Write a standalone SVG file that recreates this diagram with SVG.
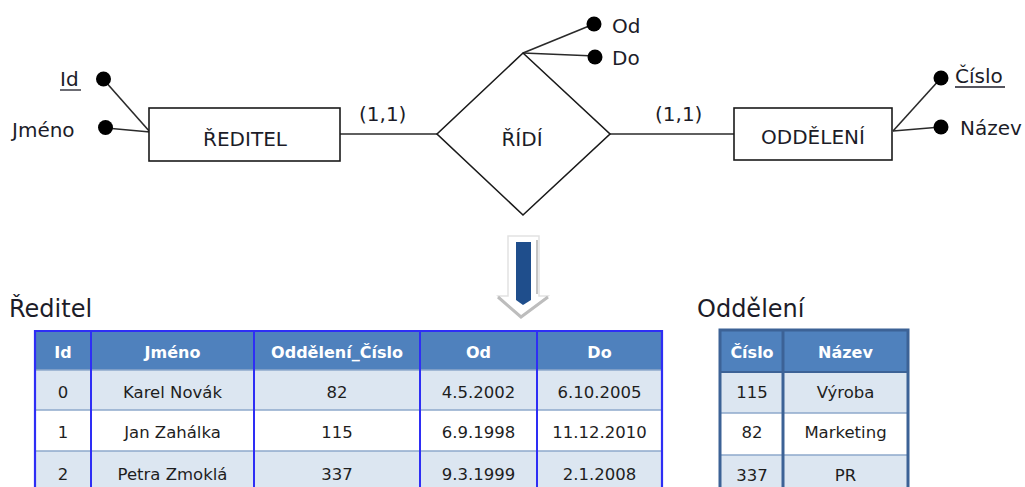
<svg xmlns="http://www.w3.org/2000/svg" width="1025" height="487" viewBox="0 0 1025 487">
<style>
.lbl{font-family:"DejaVu Sans","Liberation Sans",sans-serif;font-size:20px;fill:#1c1c28}
.ttl{font-family:"DejaVu Sans","Liberation Sans",sans-serif;font-size:24px;fill:#1c1c28}
.ent{fill:#fff;stroke:#1a1a1a;stroke-width:1.6}
.ln{stroke:#2a2a2a;stroke-width:1.6;fill:none}
.dot{fill:#000}
.hd{font-family:"DejaVu Sans","Liberation Sans",sans-serif;font-size:16px;font-weight:bold;fill:#fff;text-anchor:middle}
.cl{font-family:"DejaVu Sans","Liberation Sans",sans-serif;font-size:16.5px;fill:#1e1e1e;text-anchor:middle}
.hfill{fill:#4F81BD}
.alt{fill:#DCE6F1}
.wht{fill:#fff}
.hsep{stroke:#8EA9CB;stroke-width:1.6}
.vsep1{stroke:#2E2EF5;stroke-width:2}
.vsep2{stroke:#3C6296;stroke-width:3}
</style>

<g id="connectors">
  <line class="ln" x1="340" y1="134" x2="437" y2="134"/>
  <line class="ln" x1="610" y1="134" x2="734" y2="134"/>
  <line class="ln" x1="104" y1="80" x2="150" y2="132"/>
  <line class="ln" x1="106" y1="128" x2="150" y2="132"/>
  <line class="ln" x1="523" y1="53" x2="594" y2="24"/>
  <line class="ln" x1="523" y1="53" x2="595" y2="56"/>
  <line class="ln" x1="893" y1="131" x2="941" y2="78"/>
  <line class="ln" x1="893" y1="131" x2="941" y2="127"/>
  <text class="lbl" x="359" y="121">(1,1)</text>
  <text class="lbl" x="655" y="121">(1,1)</text>
</g>

<g id="node-reditel">
  <rect class="ent" x="149" y="108" width="191" height="53"/>
  <text class="lbl" x="245" y="146" text-anchor="middle">ŘEDITEL</text>
</g>
<g id="node-ridi">
  <polygon class="ent" points="437,134 523,53 610,134 523,215"/>
  <text class="lbl" x="522" y="146" text-anchor="middle">ŘÍDÍ</text>
</g>
<g id="node-oddeleni">
  <rect class="ent" x="734" y="108" width="158" height="52"/>
  <text class="lbl" x="813" y="144" text-anchor="middle">ODDĚLENÍ</text>
</g>

<g id="attr-id">
  <circle class="dot" cx="103.5" cy="79" r="7.5"/>
  <text class="lbl" x="60" y="86">Id</text>
  <line x1="60" y1="90" x2="81" y2="90" stroke="#1c1c28" stroke-width="1.3"/>
</g>
<g id="attr-jmeno">
  <circle class="dot" cx="105.5" cy="127.5" r="7.5"/>
  <text class="lbl" x="12" y="137">Jméno</text>
</g>
<g id="attr-od">
  <circle class="dot" cx="594" cy="24" r="7.5"/>
  <text class="lbl" x="612" y="33">Od</text>
</g>
<g id="attr-do">
  <circle class="dot" cx="595" cy="57" r="7.5"/>
  <text class="lbl" x="612" y="65">Do</text>
</g>
<g id="attr-cislo">
  <circle class="dot" cx="941" cy="78" r="7.5"/>
  <text class="lbl" x="955" y="83">Číslo</text>
  <line x1="955" y1="87" x2="1005" y2="87" stroke="#1c1c28" stroke-width="1.3"/>
</g>
<g id="attr-nazev">
  <circle class="dot" cx="941" cy="127" r="7.5"/>
  <text class="lbl" x="960" y="135">Název</text>
</g>

<g id="arrow">
  <polygon points="508,236 539,236 539,296 548,296 521,317 498,296 508,296" fill="#fff" stroke="#e2e2e2" stroke-width="1.5"/>
  <polyline points="498,297 521,317 548,297" fill="none" stroke="#bdbdbd" stroke-width="3"/>
  <line x1="537" y1="240" x2="537" y2="294" stroke="#b0b0b0" stroke-width="1.5"/>
  <polygon points="516,242 531,242 531,300 523,305 516,300" fill="#1F4E8C"/>
</g>

<g id="table-reditel">
  <text class="ttl" x="9" y="317">Ředitel</text>
  <rect class="hfill" x="35" y="331" width="627" height="39"/>
  <rect class="alt" x="35" y="370" width="627" height="40"/>
  <rect class="wht" x="35" y="410" width="627" height="41"/>
  <rect class="alt" x="35" y="451" width="627" height="40"/>
  <line class="hsep" x1="35" y1="370" x2="662" y2="370"/>
  <line class="hsep" x1="35" y1="410" x2="662" y2="410"/>
  <line class="hsep" x1="35" y1="451" x2="662" y2="451"/>
  <line class="vsep1" x1="91" y1="331" x2="91" y2="490"/>
  <line class="vsep1" x1="254" y1="331" x2="254" y2="490"/>
  <line class="vsep1" x1="420" y1="331" x2="420" y2="490"/>
  <line class="vsep1" x1="537" y1="331" x2="537" y2="490"/>
  <polyline points="35,490 35,331 662,331 662,490" fill="none" stroke="#2E2EF5" stroke-width="2.2"/>
  <text class="hd" x="63" y="358">Id</text>
  <text class="hd" x="172.5" y="358">Jméno</text>
  <text class="hd" x="337" y="358">Oddělení_Číslo</text>
  <text class="hd" x="478.5" y="358">Od</text>
  <text class="hd" x="599.5" y="358">Do</text>
  <text class="cl" x="63" y="398">0</text>
  <text class="cl" x="172.5" y="398">Karel Novák</text>
  <text class="cl" x="337" y="398">82</text>
  <text class="cl" x="478.5" y="398">4.5.2002</text>
  <text class="cl" x="599.5" y="398">6.10.2005</text>
  <text class="cl" x="63" y="438">1</text>
  <text class="cl" x="172.5" y="438">Jan Zahálka</text>
  <text class="cl" x="337" y="438">115</text>
  <text class="cl" x="478.5" y="438">6.9.1998</text>
  <text class="cl" x="599.5" y="438">11.12.2010</text>
  <text class="cl" x="63" y="480">2</text>
  <text class="cl" x="172.5" y="480">Petra Zmoklá</text>
  <text class="cl" x="337" y="480">337</text>
  <text class="cl" x="478.5" y="480">9.3.1999</text>
  <text class="cl" x="599.5" y="480">2.1.2008</text>
</g>

<g id="table-oddeleni">
  <text class="ttl" x="697" y="317">Oddělení</text>
  <rect class="hfill" x="720" y="330" width="188" height="42"/>
  <rect class="alt" x="720" y="372" width="188" height="41"/>
  <rect class="wht" x="720" y="413" width="188" height="42"/>
  <rect class="alt" x="720" y="455" width="188" height="35"/>
  <line x1="720" y1="372" x2="908" y2="372" stroke="#3C6296" stroke-width="2"/>
  <line class="hsep" x1="720" y1="413" x2="908" y2="413"/>
  <line class="hsep" x1="720" y1="455" x2="908" y2="455"/>
  <line class="vsep2" x1="783" y1="330" x2="783" y2="490"/>
  <polyline points="720,490 720,330 908,330 908,490" fill="none" stroke="#3C6296" stroke-width="3"/>
  <text class="hd" x="752" y="358">Číslo</text>
  <text class="hd" x="845.5" y="358">Název</text>
  <text class="cl" x="752" y="398">115</text>
  <text class="cl" x="845.5" y="398">Výroba</text>
  <text class="cl" x="752" y="438">82</text>
  <text class="cl" x="845.5" y="438">Marketing</text>
  <text class="cl" x="752" y="481">337</text>
  <text class="cl" x="845.5" y="481">PR</text>
</g>
</svg>
